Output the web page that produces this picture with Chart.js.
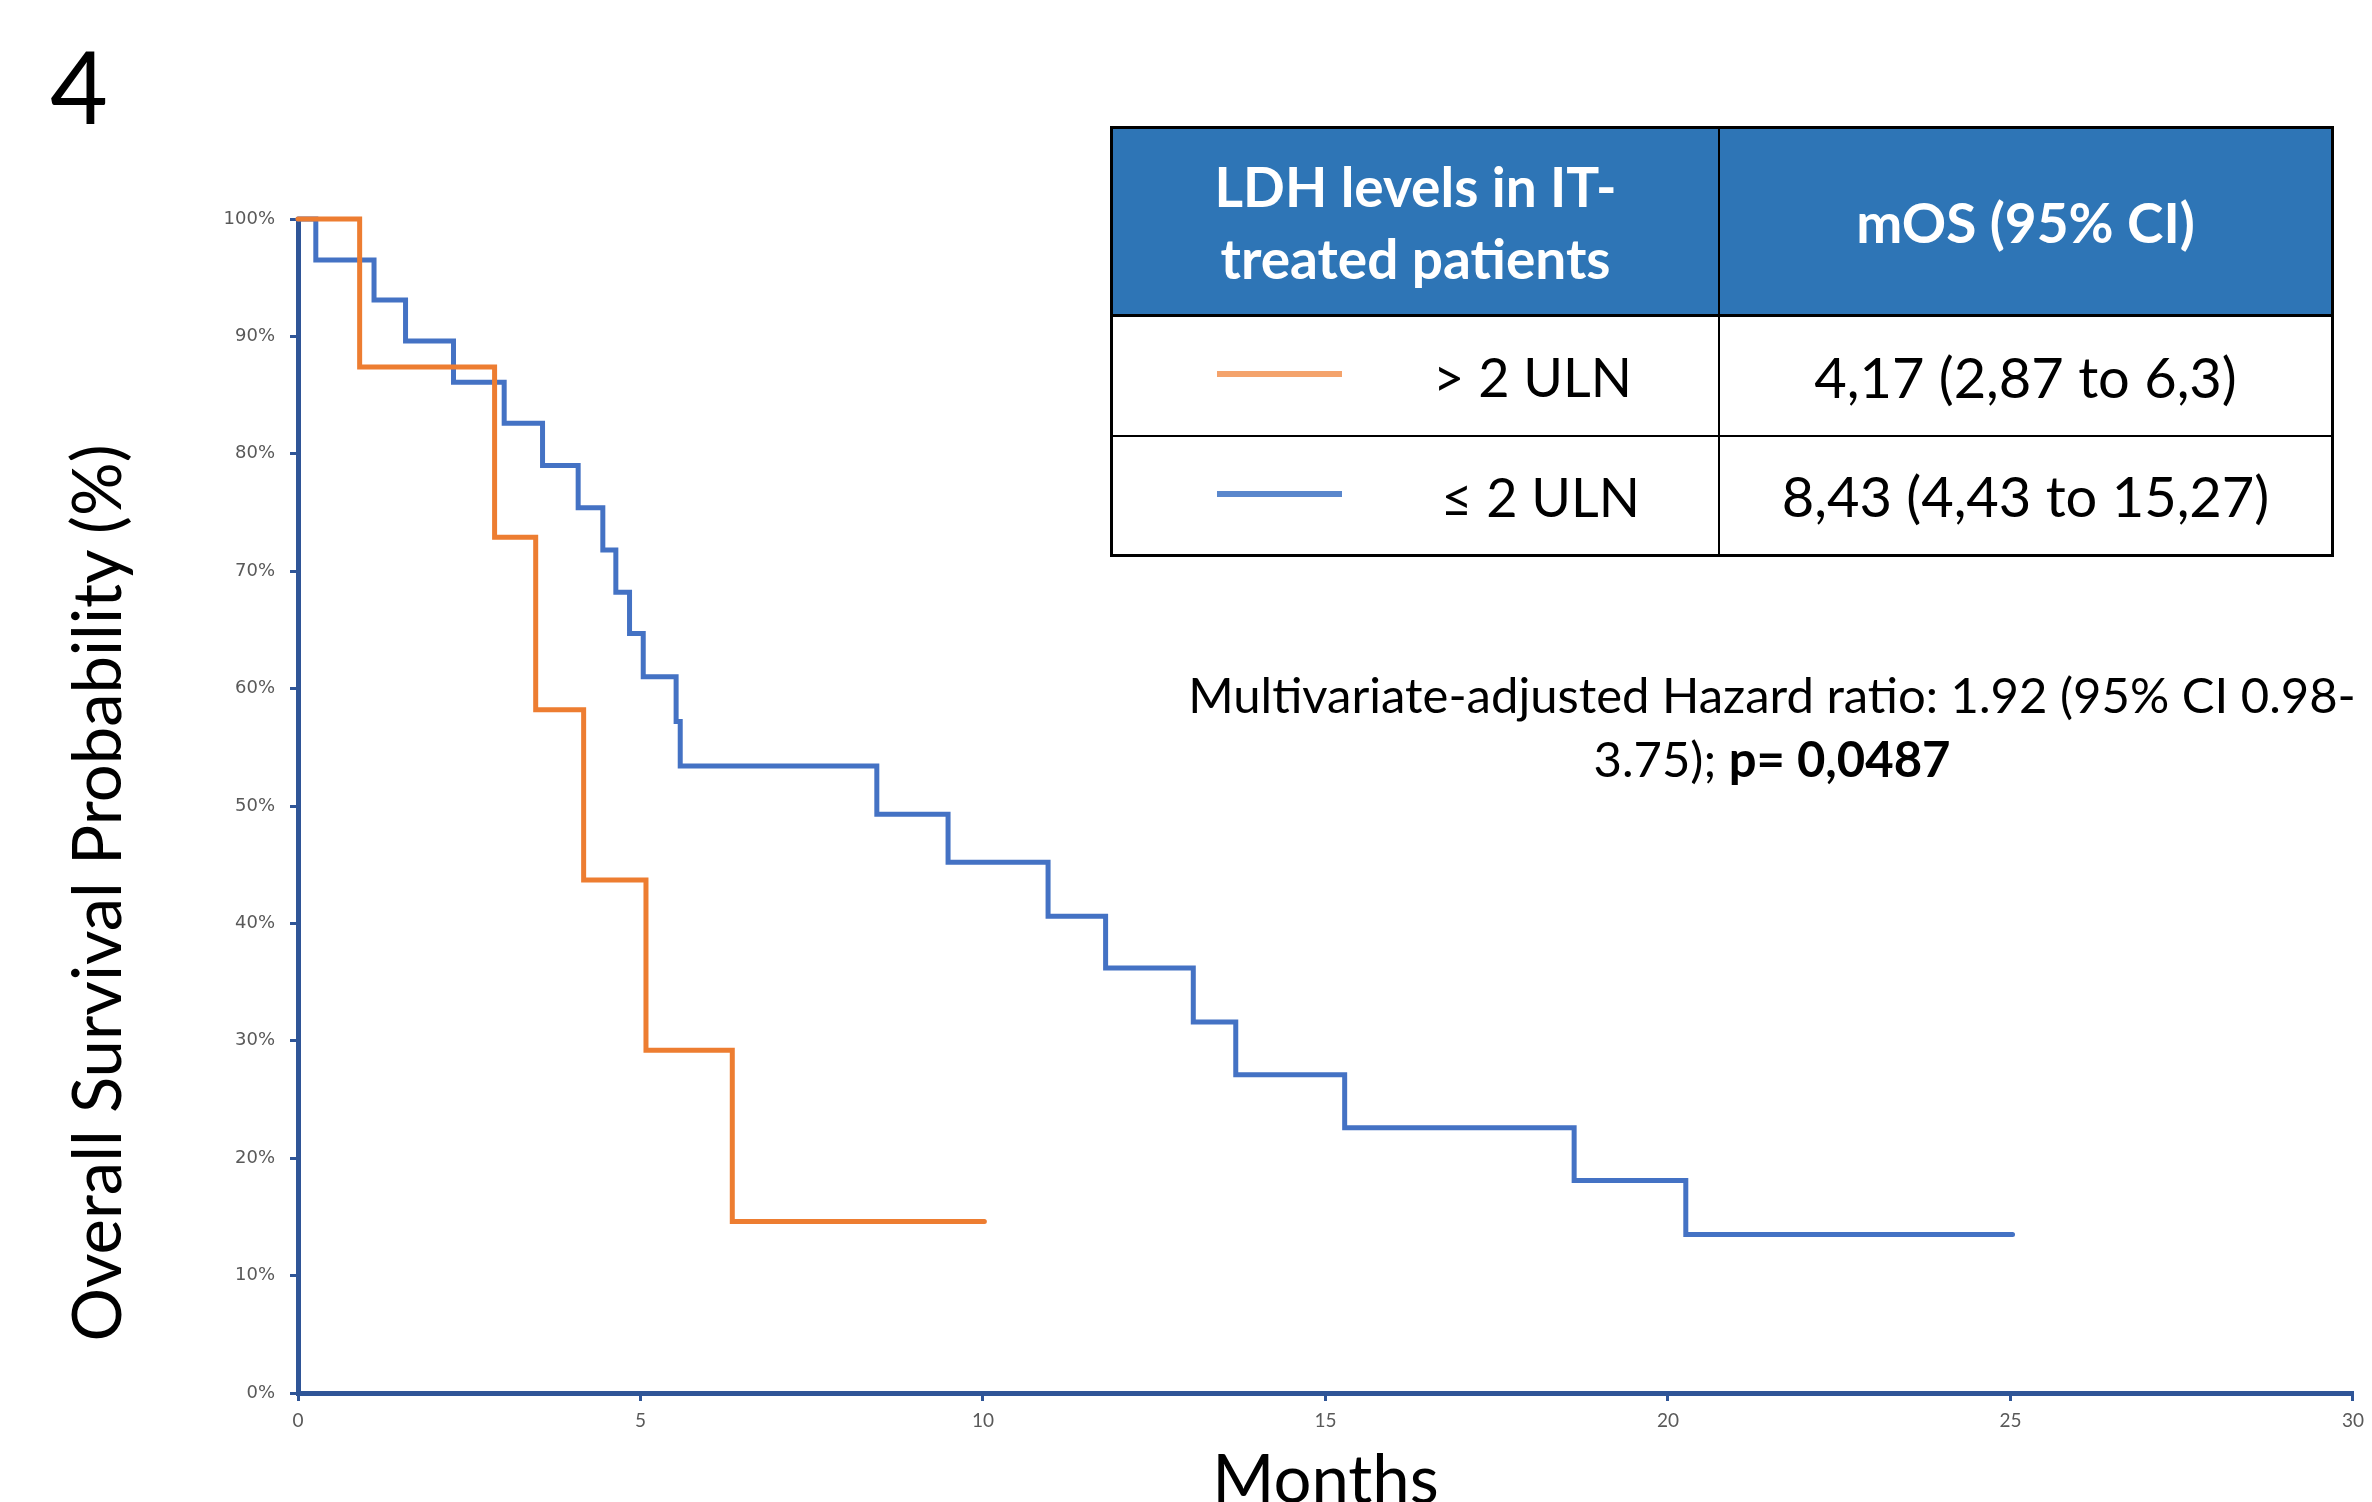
<!DOCTYPE html>
<html>
<head>
<meta charset="utf-8">
<script src="https://cdn.jsdelivr.net/npm/chart.js@4.4.1/dist/chart.umd.min.js"></script>
<style>
    html, body { margin: 0; padding: 0; background: #fff; overflow: hidden; }
    body { width: 2372px; height: 1502px; position: relative; font-family: Lato, "Open Sans", sans-serif; }
    #wrap { position: absolute; left: 0; top: 0; width: 2372px; height: 1560px; }
    .abs { position: absolute; white-space: nowrap; color: #000; }
    #panel { left: 50px; top: 36px; font-size: 100px; line-height: 98px; }
    #ytitle { left: -405px; top: 857px; width: 1000px; text-align: center; font-size: 67px; line-height: 72px; transform: rotate(-90deg); }
    #note { left: 1122px; top: 662px; width: 1300px; text-align: center; font-size: 49px; line-height: 64px; }
    #tbl { position: absolute; left: 1110px; top: 126px; width: 1224px; height: 431px; box-sizing: border-box;
           border: 3px solid #000; display: grid; grid-template-columns: 607px 611px; grid-template-rows: 188px 120px 117px; }
    #tbl > div { position: relative; box-sizing: border-box; }
    .hd { background: #2E75B6; color: #fff; font-weight: bold; font-size: 55px; line-height: 72px;
          display: flex; align-items: center; justify-content: center; text-align: center; border-bottom: 3px solid #000; }
    .c1 { border-right: 2px solid #000; }
    .r1 { border-bottom: 2px solid #000; }
    .val { display: flex; align-items: center; justify-content: center; font-size: 56px; }
    .key { position: absolute; left: 104px; top: 50%; width: 125px; height: 6px; margin-top: -5px; }
    .lbl { position: absolute; top: 50%; transform: translateY(-50%); font-size: 54px; }
</style>
</head>
<body>
<div id="wrap"><canvas id="kmChart" width="2372" height="1560"></canvas></div>

<div class="abs" id="panel">4</div>
<div class="abs" id="ytitle">Overall Survival Probability (%)</div>

<div id="tbl">
    <div class="hd c1">LDH levels in IT-<br>treated patients</div>
    <div class="hd">mOS (95% CI)</div>
    <div class="c1 r1"><span class="key" style="background:#F4A36C"></span><span class="lbl" style="left:320px">&gt; 2 ULN</span></div>
    <div class="val r1">4,17 (2,87 to 6,3)</div>
    <div class="c1"><span class="key" style="background:#5A87CC"></span><span class="lbl" style="left:328px">≤ 2 ULN</span></div>
    <div class="val">8,43 (4,43 to 15,27)</div>
</div>

<div class="abs" id="note">Multivariate-adjusted Hazard ratio: 1.92 (95% CI 0.98-<br>3.75); <b>p= 0,0487</b></div>

<script>
// Kaplan-Meier curves (months, % surviving after each drop)
const highMonths = [0, 0.90, 2.87, 3.47, 4.17, 5.08, 6.34, 10.02];
const highSurv = [100, 87.4, 72.9, 58.2, 43.7, 29.2, 14.6, 14.6];

const lowMonths = [0, 0.26, 1.11, 1.57, 2.27, 3.01, 3.57, 4.09, 4.45, 4.64, 4.84, 5.04, 5.52, 5.58,
    8.45, 9.49, 10.95, 11.79, 13.07, 13.69, 15.28, 18.63, 20.26, 25.03];
const lowSurv = [100, 96.5, 93.1, 89.6, 86.1, 82.6, 79.0, 75.4, 71.8, 68.2, 64.7, 61.0, 57.2, 53.4,
    49.3, 45.2, 40.6, 36.2, 31.6, 27.1, 22.6, 18.1, 13.5, 13.5];

const seriesNames = ["> 2 ULN", "≤ 2 ULN"];
const xTicks = [0, 5, 10, 15, 20, 25, 30];
const yTicks = [0, 10, 20, 30, 40, 50, 60, 70, 80, 90, 100];

const axisColor = "#2F5597";

function toPoints(xs, ys) {
    return xs.map((x, i) => ({ x: x, y: ys[i] }));
}

const ctx = document.getElementById("kmChart").getContext("2d");
new Chart(ctx, {
    type: "line",
    data: {
        datasets: [
            {
                label: seriesNames[0],
                data: toPoints(highMonths, highSurv),
                borderColor: "#ED7D31",
                borderWidth: 5,
                stepped: true,
                pointRadius: 0,
                borderCapStyle: "round",
                clip: 8,
            },
            {
                label: seriesNames[1],
                data: toPoints(lowMonths, lowSurv),
                borderColor: "#4472C4",
                borderWidth: 5,
                stepped: true,
                pointRadius: 0,
                borderCapStyle: "round",
                clip: 8,
            },
        ],
    },
    options: {
        responsive: false,
        animation: false,
        layout: { padding: { left: 0, right: 18, top: 219, bottom: 0 } },
        scales: {
            x: {
                type: "linear",
                min: 0,
                max: 30,
                afterBuildTicks: (scale) => { scale.ticks = xTicks.map((v) => ({ value: v })); },
                afterFit: (scale) => { scale.height = 167; },
                ticks: {
                    color: "#595959",
                    font: { family: "Lato", size: 19 },
                    padding: 8,
                },
                grid: { drawOnChartArea: false, drawTicks: true, tickLength: 8, color: axisColor, lineWidth: 3 },
                border: { color: axisColor, width: 5 },
                title: {
                    display: true,
                    text: "Months",
                    color: "#000",
                    font: { family: "Lato", size: 67 },
                    padding: { top: 0, bottom: 38 },
                },
            },
            y: {
                min: 0,
                max: 100,
                afterBuildTicks: (scale) => { scale.ticks = yTicks.map((v) => ({ value: v })); },
                afterFit: (scale) => { scale.width = 298; },
                ticks: {
                    color: "#595959",
                    font: { family: "DejaVu Sans", size: 18 },
                    padding: 15,
                    callback: (v) => v + "%",
                },
                grid: { drawOnChartArea: false, drawTicks: true, tickLength: 8, color: axisColor, lineWidth: 3 },
                border: { color: axisColor, width: 5 },
            },
        },
        plugins: {
            legend: { display: false },
            tooltip: { enabled: false },
        },
    },
});
</script>
</body>
</html>
